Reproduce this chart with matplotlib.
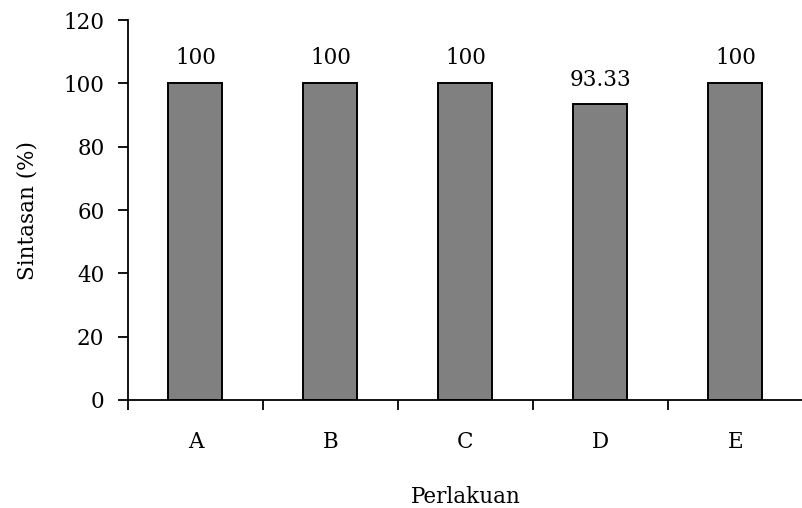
import numpy as np
import matplotlib
matplotlib.use("Agg")
import matplotlib.pyplot as plt

plt.rcParams['font.family'] = ['DejaVu Serif']

perlakuan = ['A', 'B', 'C', 'D', 'E']
sintasan = [100, 100, 100, 93.33, 100]
label_teks = ['100', '100', '100', '93.33', '100']

fig = plt.figure(figsize=(8.03, 5.08), dpi=100)
ax = fig.add_axes([0.1594, 0.2126, 0.8406, 0.748])

x = np.arange(len(perlakuan))
bars = ax.bar(x, sintasan, width=0.4, color='#808080', edgecolor='black', linewidth=1.4)

for b, t in zip(bars, label_teks):
    ax.annotate(t, (b.get_x() + b.get_width() / 2, b.get_height()),
                xytext=(0, 10), textcoords='offset points',
                ha='center', va='bottom', fontsize=15.5)

ax.set_xlim(-0.5, 4.5)
ax.set_ylim(0, 120)
ax.set_yticks(np.arange(0, 121, 20))

# category labels between the boundary ticks
ax.set_xticks(np.arange(-0.5, 4.6, 1))
ax.set_xticklabels([])
ax.set_xticks(x, minor=True)
ax.set_xticklabels(perlakuan, minor=True)
ax.tick_params(axis='x', which='minor', length=0, pad=22, labelsize=15.5)
ax.tick_params(axis='x', which='major', direction='out', length=7, width=1.3)
ax.tick_params(axis='y', direction='out', length=7, width=1.3, pad=10, labelsize=15.5)

for s in ['top', 'right']:
    ax.spines[s].set_visible(False)
ax.spines['left'].set_linewidth(1.3)
ax.spines['bottom'].set_linewidth(1.3)

ax.set_xlabel('Perlakuan', fontsize=15.5, labelpad=24)
ax.set_ylabel('Sintasan (%)', fontsize=15.5, labelpad=18)

fig.savefig('out.png', dpi=100)
